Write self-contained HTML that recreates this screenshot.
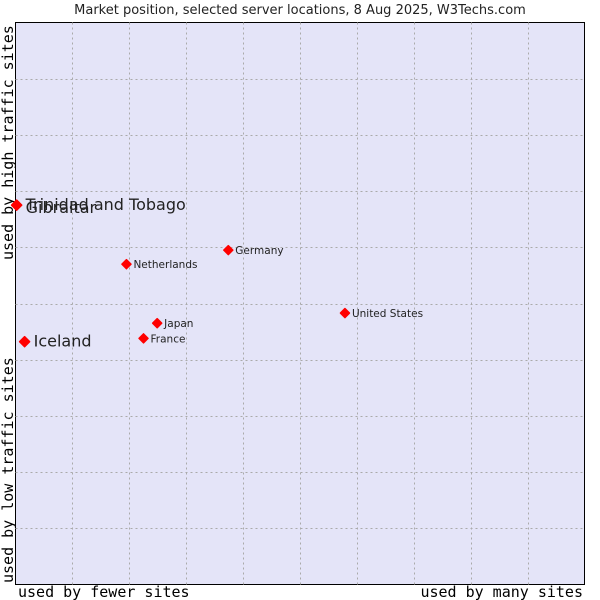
<!DOCTYPE html>
<html><head><meta charset="utf-8"><style>
body{margin:0;background:#fff;}
svg{display:block;font-family:"DejaVu Sans","Liberation Sans",sans-serif;}
</style></head><body>
<svg width="600" height="600">
<text x="300" y="14" text-anchor="middle" font-size="13" fill="#222">Market position, selected server locations, 8 Aug 2025, W3Techs.com</text>
<rect x="15.5" y="22.5" width="569" height="562" fill="#e4e4f8" stroke="#000" stroke-width="1"/>
<g id="grid"></g>
<text transform="translate(13,583) rotate(-90)" font-family="'DejaVu Sans Mono','Liberation Mono',monospace" font-size="15" fill="#000">used by low traffic sites</text>
<text transform="translate(13,260) rotate(-90)" font-family="'DejaVu Sans Mono','Liberation Mono',monospace" font-size="15" fill="#000">used by high traffic sites</text>
<text x="18" y="597" font-family="'DejaVu Sans Mono','Liberation Mono',monospace" font-size="15" fill="#000">used by fewer sites</text>
<text x="583" y="597" text-anchor="end" font-family="'DejaVu Sans Mono','Liberation Mono',monospace" font-size="15" fill="#000">used by many sites</text>
<g id="pts"></g>
</svg>
<script>
const names=["Trinidad and Tobago","Gibraltar","Iceland","Netherlands","Germany","United States","Japan","France"];
const xVals=[0.2,0.2,1.6,19.5,37.4,57.9,24.9,22.5];
const yVals=[67.5,67.5,43.2,57.0,59.5,48.3,46.5,43.8];
const big=[true,true,true,false,false,false,false,false];
const labelDy=[5,8,5,4,4,4,4,4];
const X0=15.5,X1=584.5,Y0=584.5,Y1=22.5;
const sx=v=>X0+(X1-X0)*v/100, sy=v=>Y0-(Y0-Y1)*v/100;
const NS="http://www.w3.org/2000/svg";
const g=document.getElementById('grid');
for(let i=1;i<10;i++){
 const lx=document.createElementNS(NS,'line');
 
 
 const x=Math.round(sx(i*10))+0.5;
 lx.setAttribute('x1',x);lx.setAttribute('x2',x);lx.setAttribute('y1',Y1);lx.setAttribute('y2',Y0);
 lx.setAttribute('stroke','#aaa');lx.setAttribute('stroke-dasharray','2,3');g.appendChild(lx);
 const ly=document.createElementNS(NS,'line');
 
 
 const y=Math.round(sy(i*10))+0.5;
 ly.setAttribute('x1',X0);ly.setAttribute('x2',X1);ly.setAttribute('y1',y);ly.setAttribute('y2',y);
 ly.setAttribute('stroke','#aaa');ly.setAttribute('stroke-dasharray','2,3');g.appendChild(ly);
}
const p=document.getElementById('pts');
names.forEach((n,i)=>{
 const cx=sx(xVals[i]),cy=sy(yVals[i]);
 const r=big[i]?5:4.5;
 const c=document.createElementNS(NS,'polygon');
 
 
 c.setAttribute('points',`${cx},${cy-r} ${cx+r},${cy} ${cx},${cy+r} ${cx-r},${cy}`);
 c.setAttribute('fill','#f00');c.setAttribute('stroke','#f00');c.setAttribute('stroke-width','1.5');c.setAttribute('stroke-linejoin','round');
 p.appendChild(c);
 const t=document.createElementNS(NS,'text');
 
 
 t.setAttribute('x',cx+(big[i]?9:7));t.setAttribute('y',cy+labelDy[i]);
 t.setAttribute('font-size',big[i]?16:10.5);t.setAttribute('fill','#222');
 t.textContent=n;p.appendChild(t);
});
</script>
</body></html>
